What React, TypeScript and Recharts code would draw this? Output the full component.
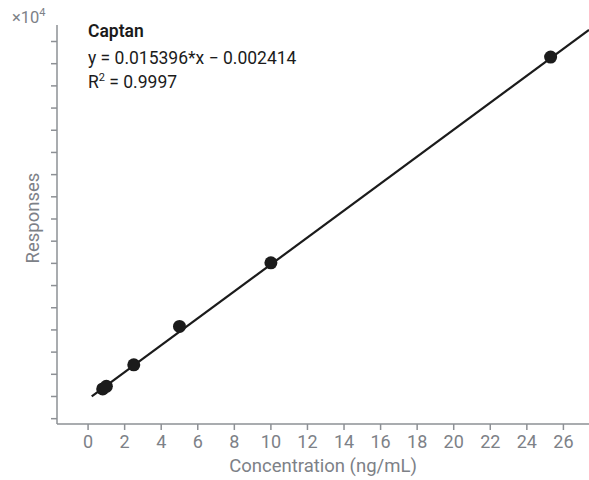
import { ComposedChart, Scatter, XAxis, YAxis } from 'recharts'

// values (responses in units of 10^4)
const concentrations = [0.8, 1, 2.5, 5, 10, 25.3]
const responses = [0.0085, 0.0115, 0.0357, 0.079, 0.1506, 0.3825]
const fitX = [0.2, 27.4]
const fitY = [0.0, 0.413]
const xTicks = [0, 2, 4, 6, 8, 10, 12, 14, 16, 18, 20, 22, 24, 26]
const yTicks = [
  -0.025, 0, 0.025, 0.05, 0.075, 0.1, 0.125, 0.15, 0.175, 0.2, 0.225, 0.25, 0.275, 0.3, 0.325,
  0.35, 0.375, 0.4,
]

const compound = 'Captan'
const equation = 'y = 0.015396*x − 0.002414'
const r2Value = '0.9997'
const xTitle = 'Concentration (ng/mL)'
const yTitle = 'Responses'

const AXIS = '#8d9095'
const LABEL = '#7d8187'
const INK = '#1b1b1b'
const FONT = 'Roboto, sans-serif'

const points = concentrations.map((x, i) => ({ x, y: responses[i] }))
const fit = fitX.map((x, i) => ({ x, y: fitY[i] }))

export default function App() {
  return (
    <div style={{ position: 'absolute', left: 0, top: 0, width: 589, height: 480, fontFamily: FONT }}>
      <ComposedChart width={589} height={480} margin={{ top: 25, right: 0, bottom: 0, left: 0 }}>
        <XAxis
          type="number"
          dataKey="x"
          domain={[-1.7, 27.4]}
          allowDataOverflow
          ticks={xTicks}
          interval={0}
          height={56}
          stroke={AXIS}
          strokeWidth={1.5}
          tickSize={6}
          tickMargin={5}
          tick={{ fontSize: 18, fill: LABEL, fontFamily: FONT }}
        />
        <YAxis
          type="number"
          dataKey="y"
          domain={[-0.031, 0.4186]}
          allowDataOverflow
          ticks={yTicks}
          interval={0}
          width={57}
          stroke={AXIS}
          strokeWidth={1.5}
          tickSize={6}
          tickFormatter={() => ''}
        />
        <Scatter
          data={fit}
          line={{ stroke: INK, strokeWidth: 2.2 }}
          shape={() => <g />}
          isAnimationActive={false}
        />
        <Scatter
          data={points}
          fill={INK}
          shape={(p: any) => <circle cx={p.cx} cy={p.cy} r={6.5} fill={INK} />}
          isAnimationActive={false}
        />
      </ComposedChart>
      <svg
        width={589}
        height={480}
        style={{ position: 'absolute', left: 0, top: 0, pointerEvents: 'none' }}
        fontFamily={FONT}
      >
        <text x={12} y={23} fontSize={16.5} fill={LABEL}>
          ×10<tspan fontSize={11} dy={-7}>4</tspan>
        </text>
        <text x={88} y={37} fontSize={17.5} fontWeight={600} fill={INK}>
          {compound}
        </text>
        <text x={88} y={64} fontSize={17.5} fill={INK}>
          {equation}
        </text>
        <text x={88} y={88} fontSize={17.5} fill={INK}>
          R<tspan fontSize={11} dy={-7}>2</tspan>
          <tspan dy={7}> = {r2Value}</tspan>
        </text>
        <text x={323} y={472} fontSize={18.5} fill={LABEL} textAnchor="middle">
          {xTitle}
        </text>
        <text
          x={33}
          y={218}
          fontSize={18.5}
          fill={LABEL}
          textAnchor="middle"
          dominantBaseline="central"
          transform="rotate(-90 33 218)"
        >
          {yTitle}
        </text>
      </svg>
    </div>
  )
}
